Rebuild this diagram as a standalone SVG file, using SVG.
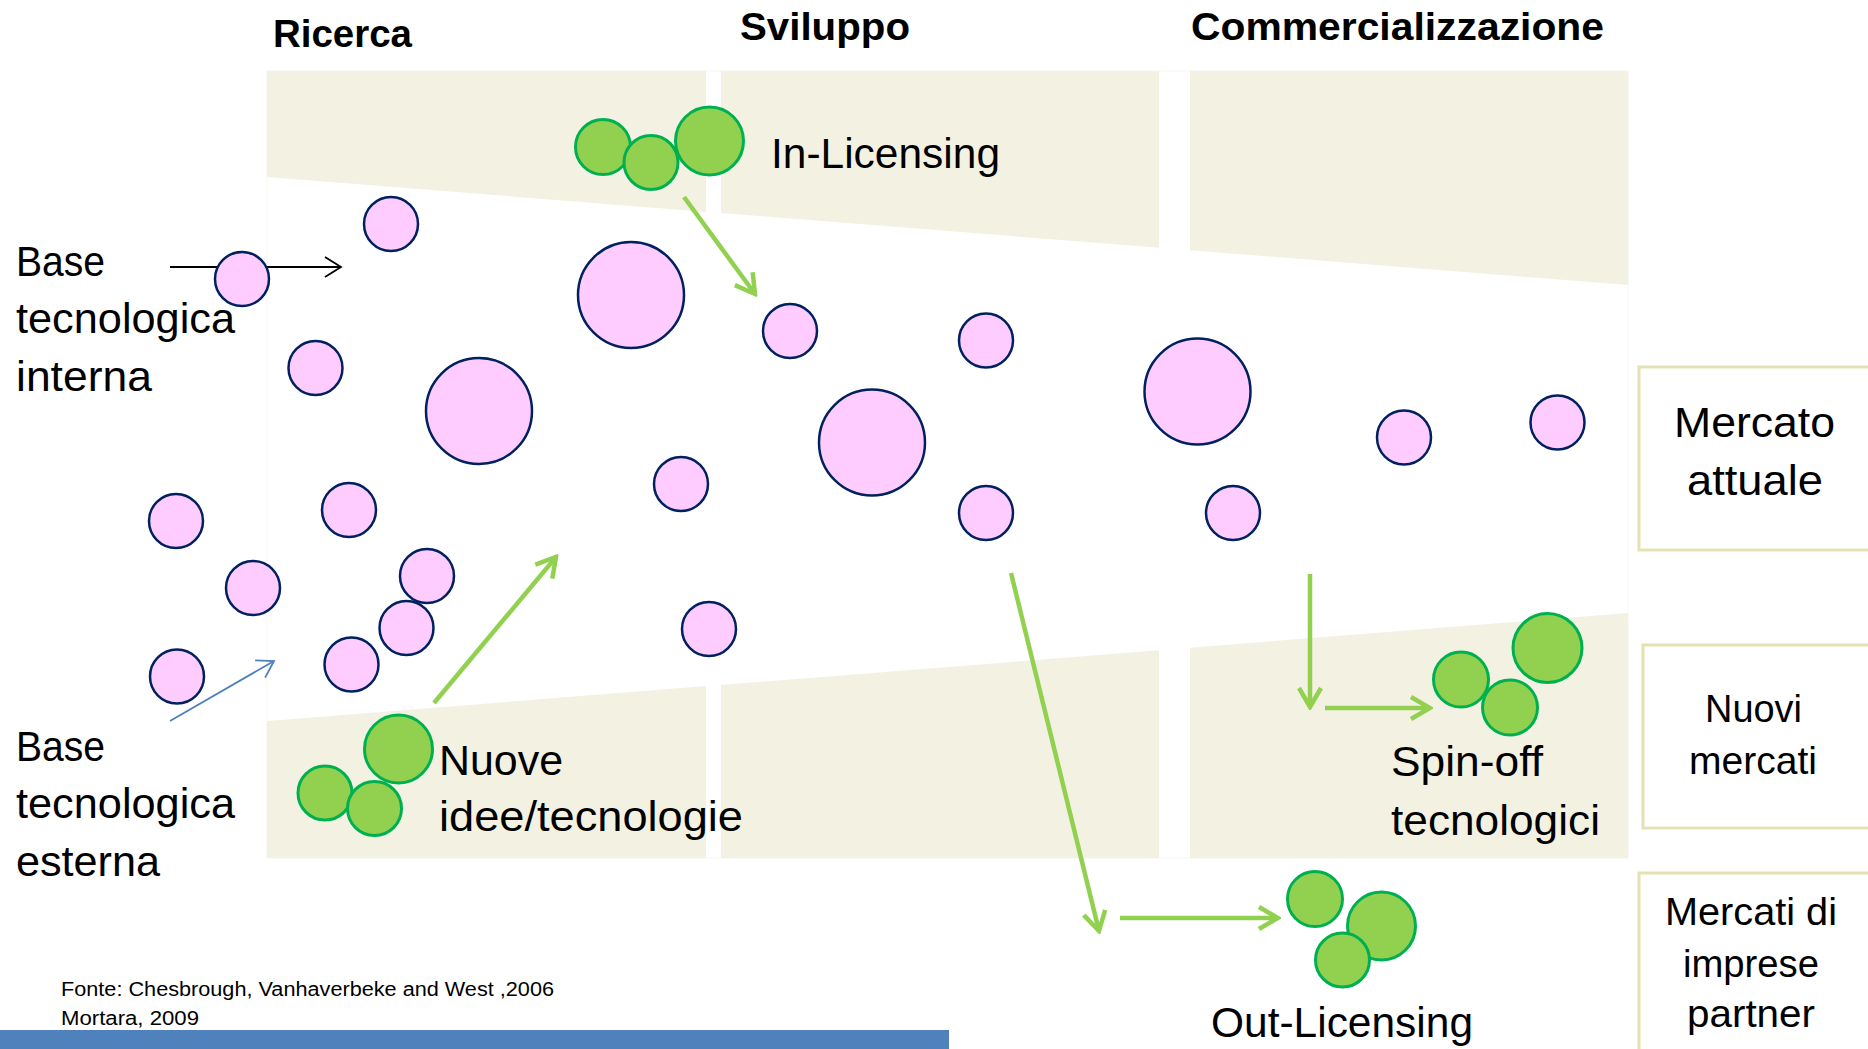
<svg xmlns="http://www.w3.org/2000/svg" width="1868" height="1049" viewBox="0 0 1868 1049">
<defs>
<style>
.panel{fill:#F3F2E2;stroke:none}
.pink{fill:#FFCCFF;stroke:#002060;stroke-width:2.5}
.green{fill:#92D050;stroke:#00B050;stroke-width:3}
.title{font-family:"Liberation Sans",Arial,sans-serif;font-weight:bold;font-size:39px;fill:#000}
.lbl{font-family:"Liberation Sans",Arial,sans-serif;font-size:42px;fill:#000}
.mk{font-family:"Liberation Sans",Arial,sans-serif;font-size:39px;fill:#000}
.note{font-family:"Liberation Sans",Arial,sans-serif;font-size:20px;fill:#000}
.mbox{fill:#fff;stroke:#E4E2B4;stroke-width:3}
.garrow{fill:none;stroke:#92D050;stroke-width:4.5;marker-end:url(#gHead)}
</style>
<marker id="gHead" markerUnits="userSpaceOnUse" viewBox="0 0 24 26" refX="21" refY="13" markerWidth="24" markerHeight="26" orient="auto">
<path d="M2,2 L21,13 L2,24" fill="none" stroke="#92D050" stroke-width="4.5"/>
</marker>
<marker id="kHead" markerUnits="userSpaceOnUse" viewBox="0 0 20 22" refX="18" refY="11" markerWidth="20" markerHeight="22" orient="auto">
<path d="M2,1 L18,11 L2,21" fill="none" stroke="#000" stroke-width="1.8"/>
</marker>
<marker id="bHead" markerUnits="userSpaceOnUse" viewBox="0 0 20 22" refX="18" refY="11" markerWidth="20" markerHeight="22" orient="auto">
<path d="M2,1 L18,11 L2,21" fill="none" stroke="#4F81BD" stroke-width="1.8"/>
</marker>
</defs>
<rect width="1868" height="1049" fill="#fff"/>

<g id="panels">
<rect x="267" y="71" width="1361" height="787" fill="none" stroke="#F8F7EE" stroke-width="1"/>
<polygon class="panel" points="267,71 706,71 706,211.9 267,177"/>
<polygon class="panel" points="721,71 1159,71 1159,247.8 721,213"/>
<polygon class="panel" points="1190,71 1628,71 1628,285 1190,250.2"/>
<polygon class="panel" points="267,721 706,686.1 706,858 267,858"/>
<polygon class="panel" points="721,685 1159,650.2 1159,858 721,858"/>
<polygon class="panel" points="1190,647.7 1628,613 1628,858 1190,858"/>
</g>

<g id="titles">
<text class="title" x="273" y="47" textLength="139" lengthAdjust="spacingAndGlyphs">Ricerca</text>
<text class="title" x="740" y="40" textLength="170" lengthAdjust="spacingAndGlyphs">Sviluppo</text>
<text class="title" x="1191" y="40" textLength="413" lengthAdjust="spacingAndGlyphs">Commercializzazione</text>
</g>

<g id="market-boxes">
<g id="mercato-attuale">
<rect class="mbox" x="1639" y="367" width="240" height="183"/>
<text class="lbl" x="1674" y="437" textLength="161" lengthAdjust="spacingAndGlyphs">Mercato</text>
<text class="lbl" x="1687" y="495" textLength="136" lengthAdjust="spacingAndGlyphs">attuale</text>
</g>
<g id="nuovi-mercati">
<rect class="mbox" x="1643" y="645" width="240" height="183"/>
<text class="mk" x="1705" y="722" textLength="97" lengthAdjust="spacingAndGlyphs">Nuovi</text>
<text class="mk" x="1689" y="774" textLength="128" lengthAdjust="spacingAndGlyphs">mercati</text>
</g>
<g id="mercati-partner">
<rect class="mbox" x="1639" y="873" width="240" height="200"/>
<text class="mk" x="1665" y="925" textLength="172" lengthAdjust="spacingAndGlyphs">Mercati di</text>
<text class="mk" x="1683" y="977" textLength="136" lengthAdjust="spacingAndGlyphs">imprese</text>
<text class="mk" x="1687" y="1027" textLength="128" lengthAdjust="spacingAndGlyphs">partner</text>
</g>
</g>

<g id="connectors">
<line x1="170" y1="267" x2="341" y2="267" stroke="#000" stroke-width="1.8" marker-end="url(#kHead)"/>
<line x1="170" y1="721" x2="274" y2="661" stroke="#4F81BD" stroke-width="1.8" marker-end="url(#bHead)"/>
<line class="garrow" x1="684" y1="197" x2="755" y2="294"/>
<line class="garrow" x1="434" y1="703" x2="556" y2="557"/>
<line class="garrow" x1="1011" y1="573" x2="1099" y2="931"/>
<line class="garrow" x1="1120" y1="918" x2="1278" y2="918"/>
<line class="garrow" x1="1310" y1="574" x2="1310" y2="707"/>
<line class="garrow" x1="1325" y1="708" x2="1430" y2="708"/>
</g>

<g id="tech-circles">
<circle class="pink" cx="391" cy="224" r="27"/>
<circle class="pink" cx="242" cy="279" r="27"/>
<circle class="pink" cx="315.5" cy="368" r="27"/>
<circle class="pink" cx="479" cy="411" r="53"/>
<circle class="pink" cx="631" cy="295" r="53"/>
<circle class="pink" cx="176" cy="521" r="27"/>
<circle class="pink" cx="349" cy="510" r="27"/>
<circle class="pink" cx="253" cy="588" r="27"/>
<circle class="pink" cx="427" cy="576" r="27"/>
<circle class="pink" cx="406.5" cy="628" r="27"/>
<circle class="pink" cx="351.5" cy="664.5" r="27"/>
<circle class="pink" cx="177" cy="676.5" r="27"/>
<circle class="pink" cx="681" cy="484" r="27"/>
<circle class="pink" cx="709" cy="629" r="27"/>
<circle class="pink" cx="790" cy="331" r="27"/>
<circle class="pink" cx="872" cy="442.5" r="53"/>
<circle class="pink" cx="986" cy="340.5" r="27"/>
<circle class="pink" cx="986" cy="513" r="27"/>
<circle class="pink" cx="1197.5" cy="391.5" r="53"/>
<circle class="pink" cx="1233" cy="513" r="27"/>
<circle class="pink" cx="1404" cy="437.5" r="27"/>
<circle class="pink" cx="1557.5" cy="422.5" r="27"/>
</g>

<g id="left-labels">
<g id="base-interna">
<text class="lbl" x="16" y="276" textLength="89" lengthAdjust="spacingAndGlyphs">Base</text>
<text class="lbl" x="16" y="333" textLength="219" lengthAdjust="spacingAndGlyphs">tecnologica</text>
<text class="lbl" x="16" y="391" textLength="136" lengthAdjust="spacingAndGlyphs">interna</text>
</g>
<g id="base-esterna">
<text class="lbl" x="16" y="761" textLength="89" lengthAdjust="spacingAndGlyphs">Base</text>
<text class="lbl" x="16" y="818" textLength="219" lengthAdjust="spacingAndGlyphs">tecnologica</text>
<text class="lbl" x="16" y="876" textLength="144" lengthAdjust="spacingAndGlyphs">esterna</text>
</g>
</g>

<g id="in-licensing">
<circle class="green" cx="603" cy="147" r="27.5"/>
<circle class="green" cx="651" cy="162.5" r="27"/>
<circle class="green" cx="709.5" cy="141" r="34"/>
<text class="lbl" x="771" y="168" textLength="229" lengthAdjust="spacingAndGlyphs">In-Licensing</text>
</g>

<g id="nuove-idee">
<circle class="green" cx="398.5" cy="749" r="34"/>
<circle class="green" cx="325" cy="793" r="27"/>
<circle class="green" cx="374.5" cy="808.5" r="27"/>
<text class="lbl" x="439" y="775" textLength="124" lengthAdjust="spacingAndGlyphs">Nuove</text>
<text class="lbl" x="439" y="831" textLength="304" lengthAdjust="spacingAndGlyphs">idee/tecnologie</text>
</g>

<g id="spin-off">
<circle class="green" cx="1547.5" cy="648" r="34.5"/>
<circle class="green" cx="1461" cy="679.5" r="27.5"/>
<circle class="green" cx="1510" cy="707.5" r="27.5"/>
<text class="lbl" x="1391" y="776" textLength="152" lengthAdjust="spacingAndGlyphs">Spin-off</text>
<text class="lbl" x="1391" y="835" textLength="209" lengthAdjust="spacingAndGlyphs">tecnologici</text>
</g>

<g id="out-licensing">
<circle class="green" cx="1315" cy="899" r="27.5"/>
<circle class="green" cx="1381.5" cy="926" r="34"/>
<circle class="green" cx="1342.5" cy="960" r="27"/>
<text class="lbl" x="1211" y="1037" textLength="262" lengthAdjust="spacingAndGlyphs">Out-Licensing</text>
</g>

<g id="source">
<text class="note" x="61" y="996" textLength="493" lengthAdjust="spacingAndGlyphs">Fonte: Chesbrough, Vanhaverbeke and West ,2006</text>
<text class="note" x="61" y="1025" textLength="138" lengthAdjust="spacingAndGlyphs">Mortara, 2009</text>
</g>

<rect id="footer-bar" x="0" y="1030" width="949" height="19" fill="#4F81BD"/>
</svg>
